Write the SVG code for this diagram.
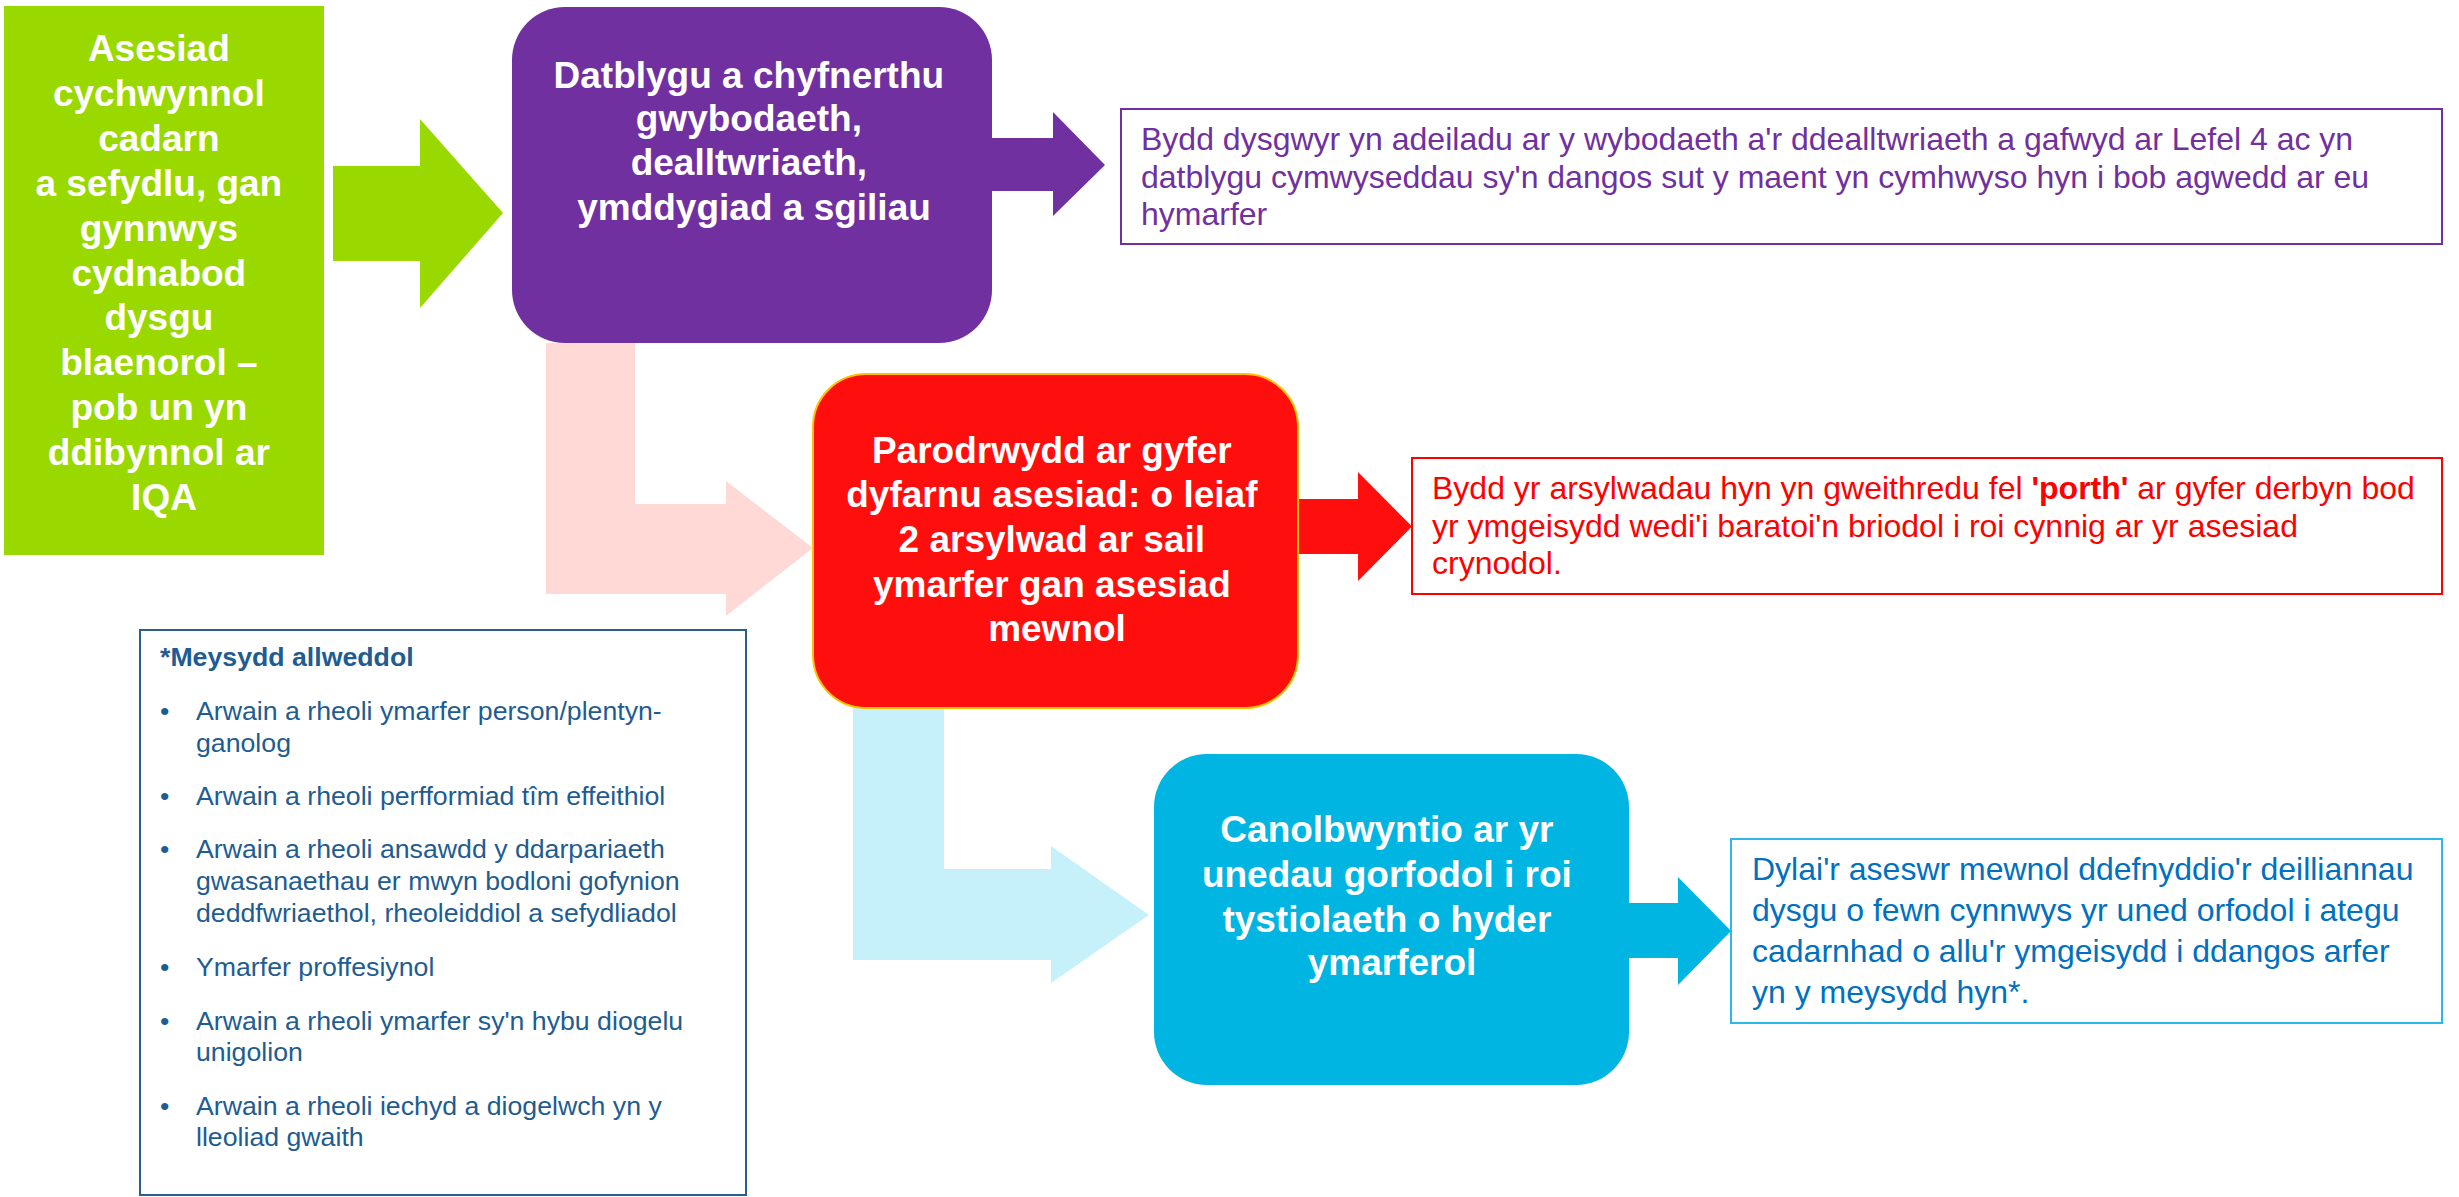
<svg xmlns="http://www.w3.org/2000/svg" width="2459" height="1197" viewBox="0 0 2459 1197">
<style>
text{font-family:"Liberation Sans",Arial,sans-serif}
.big{font-size:37px;font-weight:bold;fill:#fff;text-anchor:middle}
.body{font-size:32px}
.key{font-size:26.7px;fill:#1E5C91}
.tb{fill:#fff;stroke-width:2}
</style>
<rect width="2459" height="1197" fill="#fff"/>
<g id="connectors">
<path d="M546,343 H635 V504 H726 V481 L813,548 L726,616 V594 H546 Z" fill="#FFD9D6"/>
<path d="M853,708 H944 V869 H1051 V846 L1149,915 L1051,983 V960 H853 Z" fill="#C6F1FB"/>
<path d="M333,166 H420 V119 L503,213 L420,308 V261 H333 Z" fill="#99D900"/>
<path d="M990,138 H1053 V112 L1105,165 L1053,216 V191 H990 Z" fill="#7030A0"/>
<path d="M1296,499 H1358 V472 L1412,526.5 L1358,581 V554 H1296 Z" fill="#FF0E0E"/>
<path d="M1627,903 H1678 V877 L1731,931 L1678,985 V958 H1627 Z" fill="#00B5E2"/>
</g>
<g id="n-green">
<rect x="4" y="6" width="320" height="549" fill="#99D900"/>
<text class="big">
<tspan x="164" y="61">Asesiad</tspan>
<tspan x="164" y="106">cychwynnol</tspan>
<tspan x="164" y="151">cadarn</tspan>
<tspan x="164" y="196">a sefydlu, gan</tspan>
<tspan x="164" y="241">gynnwys</tspan>
<tspan x="164" y="286">cydnabod</tspan>
<tspan x="164" y="330">dysgu</tspan>
<tspan x="164" y="375">blaenorol –</tspan>
<tspan x="164" y="420">pob un yn</tspan>
<tspan x="164" y="465">ddibynnol ar</tspan>
<tspan x="164" y="510">IQA</tspan>
</text>
</g>
<g id="n-purple">
<rect x="512" y="7" width="480" height="336" rx="53" fill="#7030A0"/>
<text class="big">
<tspan x="754" y="88">Datblygu a chyfnerthu</tspan>
<tspan x="754" y="131">gwybodaeth,</tspan>
<tspan x="754" y="175">dealltwriaeth,</tspan>
<tspan x="754" y="220">ymddygiad a sgiliau</tspan>
</text>
</g>
<g id="n-purple-note">
<rect class="tb" x="1121" y="109" width="1321" height="135" stroke="#7030A0"/>
<text class="body" fill="#7030A0">
<tspan x="1141" y="150">Bydd dysgwyr yn adeiladu ar y wybodaeth a'r ddealltwriaeth a gafwyd ar Lefel 4 ac yn</tspan>
<tspan x="1141" y="187.5">datblygu cymwyseddau sy'n dangos sut y maent yn cymhwyso hyn i bob agwedd ar eu</tspan>
<tspan x="1141" y="225">hymarfer</tspan>
</text>
</g>
<g id="n-red">
<rect x="813" y="374" width="485" height="334" rx="53" fill="#FF0E0E" stroke="#FFC000" stroke-width="2"/>
<text class="big">
<tspan x="1057" y="463">Parodrwydd ar gyfer</tspan>
<tspan x="1057" y="507">dyfarnu asesiad: o leiaf</tspan>
<tspan x="1057" y="552">2 arsylwad ar sail</tspan>
<tspan x="1057" y="597">ymarfer gan asesiad</tspan>
<tspan x="1057" y="641">mewnol</tspan>
</text>
</g>
<g id="n-red-note">
<rect class="tb" x="1412" y="458" width="1030" height="136" stroke="#FF0000"/>
<text class="body" fill="#FF0000">
<tspan x="1432" y="499">Bydd yr arsylwadau hyn yn gweithredu fel <tspan font-weight="bold">'porth'</tspan> ar gyfer derbyn bod</tspan>
<tspan x="1432" y="537">yr ymgeisydd wedi'i baratoi'n briodol i roi cynnig ar yr asesiad</tspan>
<tspan x="1432" y="574">crynodol.</tspan>
</text>
</g>
<g id="n-blue">
<rect x="1154" y="754" width="475" height="331" rx="53" fill="#00B5E2"/>
<text class="big">
<tspan x="1392" y="842">Canolbwyntio ar yr</tspan>
<tspan x="1392" y="887">unedau gorfodol i roi</tspan>
<tspan x="1392" y="932">tystiolaeth o hyder</tspan>
<tspan x="1392" y="975">ymarferol</tspan>
</text>
</g>
<g id="n-blue-note">
<rect class="tb" x="1731" y="839" width="711" height="184" stroke="#2CB8E8"/>
<text class="body" fill="#0070C0">
<tspan x="1752" y="880">Dylai'r aseswr mewnol ddefnyddio'r deilliannau</tspan>
<tspan x="1752" y="921">dysgu o fewn cynnwys yr uned orfodol i ategu</tspan>
<tspan x="1752" y="962">cadarnhad o allu'r ymgeisydd i ddangos arfer</tspan>
<tspan x="1752" y="1003">yn y meysydd hyn*.</tspan>
</text>
</g>
<g id="n-key">
<rect class="tb" x="140" y="630" width="606" height="565" stroke="#2A5F8C"/>
<text class="key" font-weight="bold" x="160" y="666">*Meysydd allweddol</text>
<text class="key">
<tspan x="160" y="720">•</tspan>
<tspan x="196" y="720">Arwain a rheoli ymarfer person/plentyn-</tspan>
<tspan x="196" y="752">ganolog</tspan>
<tspan x="160" y="805">•</tspan>
<tspan x="196" y="805">Arwain a rheoli perfformiad tîm effeithiol</tspan>
<tspan x="160" y="858">•</tspan>
<tspan x="196" y="858">Arwain a rheoli ansawdd y ddarpariaeth</tspan>
<tspan x="196" y="890">gwasanaethau er mwyn bodloni gofynion</tspan>
<tspan x="196" y="922">deddfwriaethol, rheoleiddiol a sefydliadol</tspan>
<tspan x="160" y="976">•</tspan>
<tspan x="196" y="976">Ymarfer proffesiynol</tspan>
<tspan x="160" y="1030">•</tspan>
<tspan x="196" y="1030">Arwain a rheoli ymarfer sy'n hybu diogelu</tspan>
<tspan x="196" y="1061">unigolion</tspan>
<tspan x="160" y="1115">•</tspan>
<tspan x="196" y="1115">Arwain a rheoli iechyd a diogelwch yn y</tspan>
<tspan x="196" y="1146">lleoliad gwaith</tspan>
</text>
</g>
</svg>
